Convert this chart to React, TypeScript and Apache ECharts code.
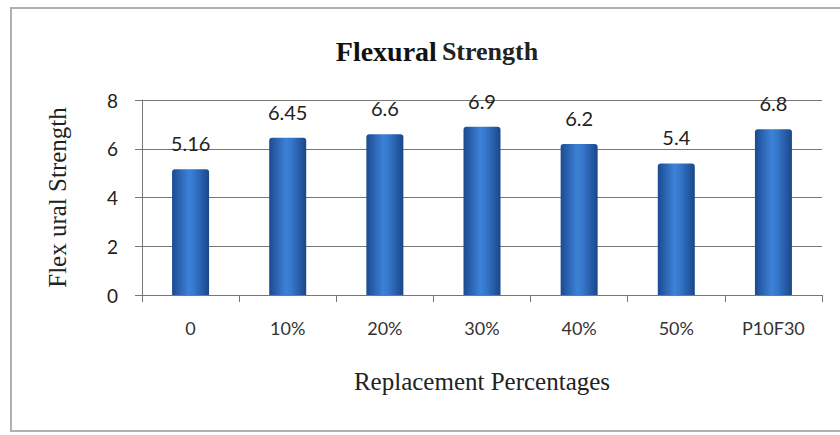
import React, { useEffect, useRef } from "react";
import * as echarts from "echarts";

const categories = ["0", "10%", "20%", "30%", "40%", "50%", "P10F30"];
const strengthValues = [5.16, 6.45, 6.6, 6.9, 6.2, 5.4, 6.8];
const yTicks = { min: 0, max: 8, interval: 2 };

export default function App() {
  const ref = useRef<HTMLDivElement>(null);

  useEffect(() => {
    document.body.style.margin = "0";
    const chart = echarts.init(ref.current!, null, { renderer: "svg" });
    // cylinder-like shading across each bar
    const barGradient = new echarts.graphic.LinearGradient(0, 0, 1, 0, [
      { offset: 0, color: "#1b4a92" },
      { offset: 0.45, color: "#3d82d6" },
      { offset: 0.6, color: "#3577cc" },
      { offset: 1, color: "#1a4788" },
    ]);
    chart.setOption({
      animation: false,
      backgroundColor: "#ffffff",
      title: {
        text: "{b|Flexural} {r|Strength}",
        left: 432,
        top: 32,
        textAlign: "center",
        textStyle: {
          rich: {
            b: { fontFamily: "Liberation Serif", fontWeight: "bold", fontSize: 28, color: "#111" },
            r: { fontFamily: "Liberation Serif", fontWeight: "bold", fontSize: 26, color: "#222" },
          },
        },
      },
      graphic: [
        {
          type: "rect",
          shape: { x: 11, y: 8, width: 840, height: 423 },
          style: { fill: "none", stroke: "#b0b0b0", lineWidth: 2 },
          silent: true,
        },
      ],
      grid: { left: 142, right: 18, top: 100, bottom: 140 },
      xAxis: {
        type: "category",
        data: categories,
        name: "Replacement Percentages",
        nameLocation: "middle",
        nameGap: 74,
        nameTextStyle: { fontFamily: "Liberation Serif", fontSize: 25, color: "#222" },
        axisLine: { lineStyle: { color: "#777", width: 1 } },
        axisTick: { show: true, length: 7, lineStyle: { color: "#777" } },
        axisLabel: { margin: 24, fontFamily: "Lato", fontSize: 18, color: "#333" },
      },
      yAxis: {
        type: "value",
        min: yTicks.min,
        max: yTicks.max,
        interval: yTicks.interval,
        name: "Flex ural Strength",
        nameLocation: "middle",
        nameGap: 72,
        nameRotate: 90,
        nameTextStyle: { fontFamily: "Liberation Serif", fontSize: 25, color: "#222" },
        axisLine: { show: true, lineStyle: { color: "#777", width: 1 } },
        axisTick: { show: true, length: 7, lineStyle: { color: "#777" } },
        axisLabel: { margin: 24, fontFamily: "Lato", fontSize: 19, color: "#222" },
        splitLine: { show: true, lineStyle: { color: "#777", width: 1 } },
      },
      series: [
        {
          type: "bar",
          data: strengthValues,
          barWidth: 37,
          itemStyle: { color: barGradient, borderRadius: [3, 3, 0, 0] },
          label: {
            show: true,
            position: "top",
            distance: 16,
            fontFamily: "Lato",
            fontSize: 20,
            color: "#222",
          },
        },
      ],
    });
    return () => chart.dispose();
  }, []);

  return <div ref={ref} style={{ width: 840, height: 435 }} />;
}
